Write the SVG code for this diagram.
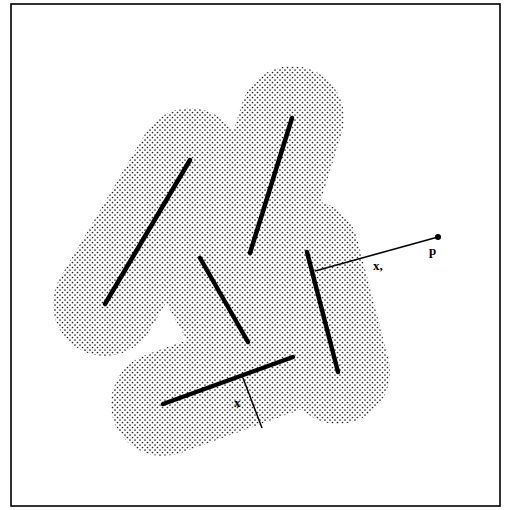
<svg xmlns="http://www.w3.org/2000/svg" width="506" height="510" viewBox="0 0 506 510">
<defs>
<pattern id="dots" width="5" height="5" patternUnits="userSpaceOnUse">
<circle cx="0" cy="0" r="0.85" fill="#222"/>
<circle cx="5" cy="0" r="0.85" fill="#222"/>
<circle cx="0" cy="5" r="0.85" fill="#222"/>
<circle cx="5" cy="5" r="0.85" fill="#222"/>
<circle cx="2.5" cy="2.5" r="0.85" fill="#222"/>
</pattern>
<mask id="regionMask" maskUnits="userSpaceOnUse" x="0" y="0" width="506" height="510">
<g stroke="#fff" stroke-width="104" stroke-linecap="round" fill="none">
<line x1="190" y1="160" x2="105" y2="304"/>
<line x1="292" y1="118" x2="250" y2="253"/>
<line x1="200" y1="258" x2="248" y2="342"/>
<line x1="307" y1="252" x2="338" y2="372"/>
<line x1="163" y1="404" x2="293" y2="357"/>
</g>
</mask>
</defs>
<style>
.seg{stroke:#000;stroke-width:4.5;stroke-linecap:round;fill:none}
.conn{stroke:#000;stroke-width:1.5;fill:none}
.lbl{font-family:"Liberation Serif",serif;font-size:13px;font-weight:bold;fill:#000}
</style>
<rect x="0" y="0" width="506" height="510" fill="#fff"/>
<rect x="11" y="4" width="489" height="502" fill="none" stroke="#000" stroke-width="1.6"/>
<g id="region">
<rect x="0" y="0" width="506" height="510" fill="url(#dots)" mask="url(#regionMask)"/>
</g>
<g id="seg1"><line class="seg" x1="190" y1="160" x2="105" y2="304"/></g>
<g id="seg2"><line class="seg" x1="292" y1="118" x2="250" y2="253"/></g>
<g id="seg3"><line class="seg" x1="200" y1="258" x2="248" y2="342"/></g>
<g id="seg4"><line class="seg" x1="307" y1="252" x2="338" y2="372"/></g>
<g id="seg5"><line class="seg" x1="163" y1="404" x2="293" y2="357"/></g>
<g id="p"><circle cx="438" cy="237" r="3" fill="#000"/><text class="lbl" x="429" y="255">p</text></g>
<g id="connectors">
<line class="conn" x1="315" y1="271" x2="438" y2="237"/>
<line class="conn" x1="243" y1="378" x2="262" y2="428" stroke-width="1.2"/>
</g>
<text class="lbl" x="373" y="270">x,</text>
<text class="lbl" x="234" y="407">x</text>
</svg>
